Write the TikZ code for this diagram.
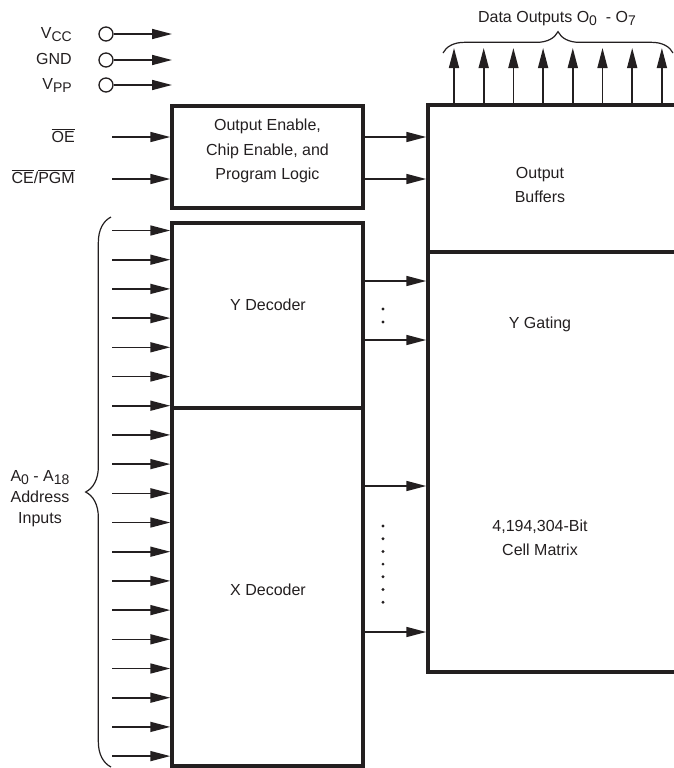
\documentclass[tikz,border=0pt]{standalone}
\usepackage{fontspec}
\setmainfont{Liberation Sans}
\usetikzlibrary{arrows.meta,decorations.pathreplacing,fit}
\definecolor{ink}{RGB}{35,31,32}
\newcommand{\lowr}[1]{\raisebox{-0.35ex}{\fontsize{10.5}{10.5}\selectfont #1}}
\newcommand{\ovl}[1]{$\overline{\mbox{#1}}$}

\begin{document}
\begin{tikzpicture}[x=0.75pt, y=-0.75pt, >={Triangle[length=15pt,width=7.5pt]}, font=\fontsize{12}{18.4}\selectfont, color=ink,
		blk/.style={draw, line width=2.6pt, inner sep=0pt},
		sig/.style={->, line width=1.2pt},
		pin/.style={circle, draw, line width=1pt, minimum size=10.5pt, inner sep=0pt},
		brc/.style={decorate, decoration={brace, amplitude=#1}, line width=0.9pt}]
			\useasboundingbox (0,0) rectangle (674,768);
			\clip (0,0) rectangle (674,768);
			% Bloecke
			\node[blk, align=center, fit={(172,106) (363,208)}] (logic) {Output Enable,\\Chip Enable, and\\Program Logic};
			\node[blk, fit={(172,223) (363,408)}] (ydec) {};
			\node[blk, fit={(172,408) (363,766)}] (xdec) {};
			\node[blk, fit={(428,105) (700,252)}] (buf) {};
			\node[blk, fit={(428,252) (700,672)}] (cell) {};
			% Beschriftung der Bloecke
			\node (ydectxt) at (268,305) {Y Decoder};
			\node (xdectxt) at (268,590) {X Decoder};
			\node[align=center] (buftxt) at (540,185) {Output\\Buffers};
			\node (gatetxt) at (540,324) {Y Gating};
			\node[align=center] (celltxt) at (540,538) {4,194,304-Bit\\Cell Matrix};
			% Versorgung
			\foreach \n/\t/\y in {vcc/V\lowr{CC}/34, gnd/GND/60, vpp/V\lowr{PP}/85} {
				\node[anchor=base east, inner sep=0pt] (\n txt) at (72,\y+4.5) {\t};
				\node[pin] (\n) at (106,\y) {};
				\coordinate (\n end) at (172,\y);
				\draw[sig] (\n) -- (\n end);
			}
			% Steuereingaenge
			\node[anchor=base east, inner sep=0pt] (oetxt) at (75,142) {\ovl{OE}};
			\node[anchor=base east, inner sep=0pt] (cetxt) at (75,183) {\ovl{CE}/\ovl{PGM}};
			\coordinate (oe) at (112,137);
			\coordinate (ce) at (112,179);
			\draw[sig] (oe) -- (oe -| logic.west);
			\draw[sig] (ce) -- (ce -| logic.west);
			\draw[sig] (logic.east |- oe) -- (buf.west |- oe);
			\draw[sig] (logic.east |- ce) -- (buf.west |- ce);
			% Adresseingaenge
			\foreach \i in {0,...,18} {
				\coordinate (a\i) at (112,{230.5+29.2*\i});
				\draw[sig] (a\i) -- (a\i -| ydec.west);
			}
			\draw[brc=19pt] (111,767) -- (111,217);
			\node[align=center, font=\fontsize{12}{15.8}\selectfont] (addr) at (40,499) {A\lowr{0} - A\lowr{18}\\Address\\Inputs};
			% Decoder-Ausgaenge
			\foreach \y in {281,340} \draw[sig] (ydec.east |- 0,\y) -- (cell.west |- 0,\y);
			\foreach \y in {486,632} \draw[sig] (xdec.east |- 0,\y) -- (cell.west |- 0,\y);
			\foreach \y in {309,322} \fill (383,\y) circle (1.2pt);
			\foreach \y in {526,538.7,...,603} \fill (383,\y) circle (1.2pt);
			% Datenausgaenge
			\foreach \x in {454,483.7,513.4,543.1,572.8,602.5,632.2,661.9}
				\draw[sig] (buf.north -| \x,0) -- (\x,48);
			\draw[brc=16pt] (443,53) -- (673,53);
			\node (dout) at (557,19) {Data Outputs O\lowr{0}\ \ - O\lowr{7}};
		\end{tikzpicture}
\end{document}
